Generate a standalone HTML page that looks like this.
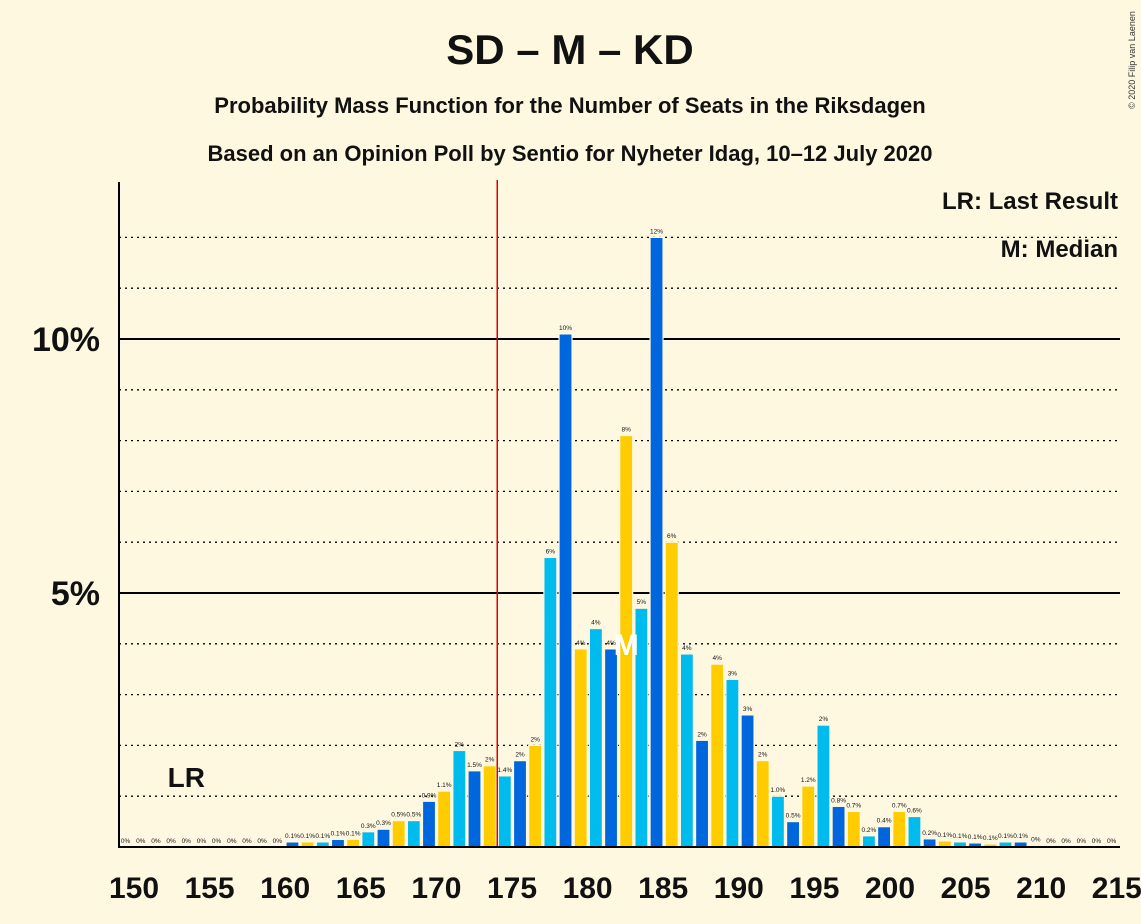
<!DOCTYPE html>
<html><head><meta charset="utf-8"><style>
body{margin:0;background:#FFF8E1;}
svg{display:block;font-family:"Liberation Sans",sans-serif;}
</style></head><body>
<svg id="c" width="1141" height="924" viewBox="0 0 1141 924">
<rect width="1141" height="924" fill="#FFF8E1"/>
<text x="570" y="64" text-anchor="middle" font-size="42" font-weight="bold" fill="#111">SD – M – KD</text>
<text x="570" y="113" text-anchor="middle" font-size="22" font-weight="bold" fill="#111">Probability Mass Function for the Number of Seats in the Riksdagen</text>
<text x="570" y="161" text-anchor="middle" font-size="22" font-weight="bold" fill="#111">Based on an Opinion Poll by Sentio for Nyheter Idag, 10–12 July 2020</text>
<text x="1135" y="60" font-size="9" fill="#333" transform="rotate(-90 1135 60)" text-anchor="middle">© 2020 Filip van Laenen</text>
<text x="1118" y="209" text-anchor="end" font-size="24" font-weight="bold" fill="#111">LR: Last Result</text>
<text x="1118" y="257" text-anchor="end" font-size="24" font-weight="bold" fill="#111">M: Median</text>
<g id="grid"></g><g id="bars"></g><g id="axes"></g>
</svg>
<script>
const seats=[150,151,152,153,154,155,156,157,158,159,160,161,162,163,164,165,166,167,168,169,170,171,172,173,174,175,176,177,178,179,180,181,182,183,184,185,186,187,188,189,190,191,192,193,194,195,196,197,198,199,200,201,202,203,204,205,206,207,208,209,210,211,212,213,214,215];
const probs=[0,0,0,0,0,0,0,0,0,0,0,0.1,0.1,0.1,0.15,0.15,0.3,0.35,0.52,0.52,0.9,1.1,1.9,1.5,1.6,1.4,1.7,2.0,5.7,10.1,3.9,4.3,3.9,8.1,4.7,12.0,6.0,3.8,2.1,3.6,3.3,2.6,1.7,1.0,0.5,1.2,2.4,0.8,0.7,0.22,0.4,0.7,0.6,0.16,0.12,0.1,0.08,0.06,0.1,0.1,0.03,0,0,0,0,0];
const xTicks=[150,155,160,165,170,175,180,185,190,195,200,205,210,215];
const yTicks=[5,10];
const lastResult=154, median=183, majority=175;
const NS="http://www.w3.org/2000/svg";
const x=s=>125.6+(s-150)*15.17, y=p=>847-p*50.8;
function mk(t,a,par,txt){const e=document.createElementNS(NS,t);for(const k in a)e.setAttribute(k,a[k]);if(txt!==undefined)e.textContent=txt;document.getElementById(par).appendChild(e);return e;}
for(let p=1;p<=12;p++){const solid=p%5===0;
const g=mk('line',{x1:119,x2:1120,y1:y(p),y2:y(p),stroke:'#000','stroke-width':solid?2:1.3,'stroke-dasharray':solid?'none':'2,4'},'grid');

}
yTicks.forEach(t=>{const e=mk('text',{x:100,y:y(t)+12,'text-anchor':'end','font-size':34,'font-weight':'bold',fill:'#111'},'axes',t+'%');

});
const cols=['#FFCC00','#00BBEE','#0066DD'];
seats.forEach((s,i)=>{const p=probs[i];
const r=mk('rect',{x:x(s)-6.5,y:y(p),width:13,height:p*50.8,fill:cols[s%3],stroke:'#FFF8E1','stroke-width':1.2},'bars');


const lbl=p<0.05?'0%':(p<1.55?p.toFixed(1)+'%':Math.round(p)+'%');
const t=mk('text',{x:x(s),y:y(p)-4,'text-anchor':'middle','font-size':6.5,fill:'#111'},'bars',lbl);

});
const mi=seats.indexOf(median);
const mt=mk('text',{x:x(median),y:y(probs[mi-1])+6,'text-anchor':'middle','font-size':30,'font-weight':'bold',fill:'#fff'},'bars','M');


const lr=mk('text',{x:x(lastResult),y:787,'text-anchor':'middle','font-size':28,'font-weight':'bold',fill:'#111'},'axes','LR');


const ml=mk('line',{x1:x(majority)-7.6,x2:x(majority)-7.6,y1:180,y2:847,stroke:'#DD0000','stroke-width':1.5},'axes');


const ya=mk('line',{x1:119,x2:119,y1:182,y2:848,stroke:'#000','stroke-width':2},'axes');


const xa=mk('line',{x1:118,x2:1120,y1:847,y2:847,stroke:'#000','stroke-width':2},'axes');


xTicks.forEach(t=>{const e=mk('text',{x:134+(t-150)*15.12,y:898,'text-anchor':'middle','font-size':30,'font-weight':'bold',fill:'#111'},'axes',t);

});
</script>
</body></html>
